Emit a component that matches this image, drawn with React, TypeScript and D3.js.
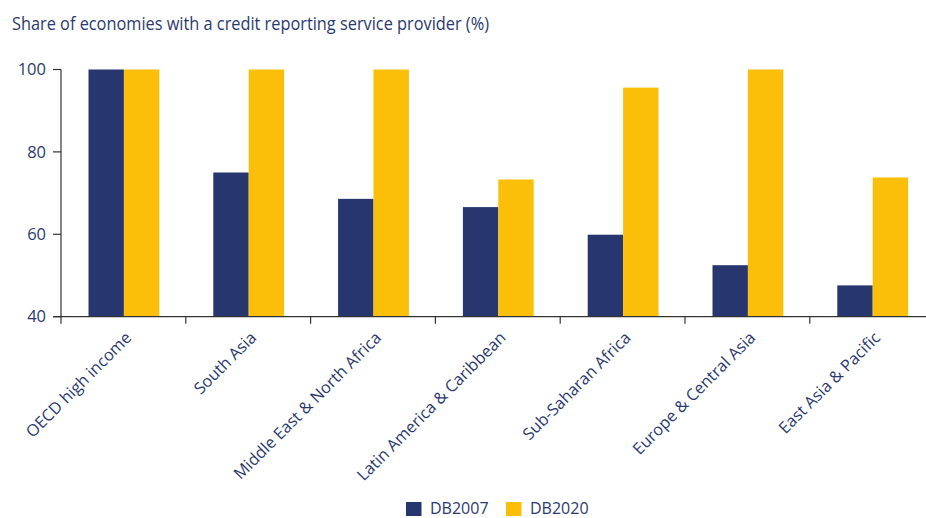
import React from "react"
import * as d3 from "d3"

const categories = [
  "OECD high income",
  "South Asia",
  "Middle East & North Africa",
  "Latin America & Caribbean",
  "Sub-Saharan Africa",
  "Europe & Central Asia",
  "East Asia & Pacific",
]
const db2007 = [100, 75, 68.6, 66.6, 59.9, 52.5, 47.6]
const db2020 = [100, 100, 100, 73.3, 95.6, 100, 73.8]
const seriesNames = ["DB2007", "DB2020"]
const yTicks = [40, 60, 80, 100]

const colors = ["#27366F", "#FBBF09"]
const textColor = "#2B3A6E"
const font = "'Open Sans', sans-serif"

const App: React.FC = () => {
  const width = 926
  const height = 518
  const left = 61
  const top = 69.5
  const bottom = 316.7

  const x = d3.scaleBand<string>()
    .domain(categories)
    .range([left, left + 7 * 124.8])
  const inner = d3.scaleBand<number>()
    .domain([0, 1])
    .range([27.5, x.bandwidth() - 26.5])
  const y = d3.scaleLinear()
    .domain([40, 100])
    .range([bottom, top])

  const series = [db2007, db2020]

  return (
    <svg width={width} height={height} style={{ position: "absolute", left: 0, top: 0 }}>
      <text x={12} y={30} fill={textColor} fontFamily={font} fontSize={18}
        textLength={477} lengthAdjust="spacingAndGlyphs">
        Share of economies with a credit reporting service provider (%)
      </text>

      {series.map((vals, s) =>
        categories.map((c, i) => (
          <rect key={`${s}-${i}`}
            x={(x(c) as number) + (inner(s) as number)}
            y={y(vals[i])}
            width={inner.bandwidth()}
            height={y(40) - y(vals[i])}
            fill={colors[s]} />
        ))
      )}

      {/* y axis */}
      <line x1={left} x2={left} y1={y(100)} y2={y(40)} stroke="#333" strokeWidth={1.2} />
      {yTicks.map(t => (
        <g key={t}>
          <line x1={left - 8} x2={left} y1={y(t)} y2={y(t)} stroke="#333" strokeWidth={1.2} />
          <text x={left - 15} y={y(t)} dy="0.35em" textAnchor="end" fill={textColor}
            fontFamily={font} fontSize={16.5}>{t}</text>
        </g>
      ))}

      {/* x axis */}
      <line x1={left - 8} x2={width} y1={y(40)} y2={y(40)} stroke="#333" strokeWidth={1.2} />
      {categories.map(c => (
        <line key={c} x1={x(c)} x2={x(c)} y1={y(40)} y2={y(40) + 7} stroke="#333" strokeWidth={1.2} />
      ))}
      {categories.map(c => {
        const cx = (x(c) as number) + x.bandwidth() / 2 + 1
        const cy = y(40) + 14
        return (
          <text key={c} transform={`translate(${cx},${cy}) rotate(-45)`} textAnchor="end"
            dy="0.7em" fill={textColor} fontFamily={font} fontSize={16.3}>{c}</text>
        )
      })}

      {/* legend */}
      {seriesNames.map((n, i) => (
        <g key={n} transform={`translate(${406 + i * 100},502)`}>
          <rect width={15.5} height={14} fill={colors[i]} />
          <text x={24} y={12} fill={textColor} fontFamily={font} fontSize={16}>{n}</text>
        </g>
      ))}
    </svg>
  )
}

export default App
